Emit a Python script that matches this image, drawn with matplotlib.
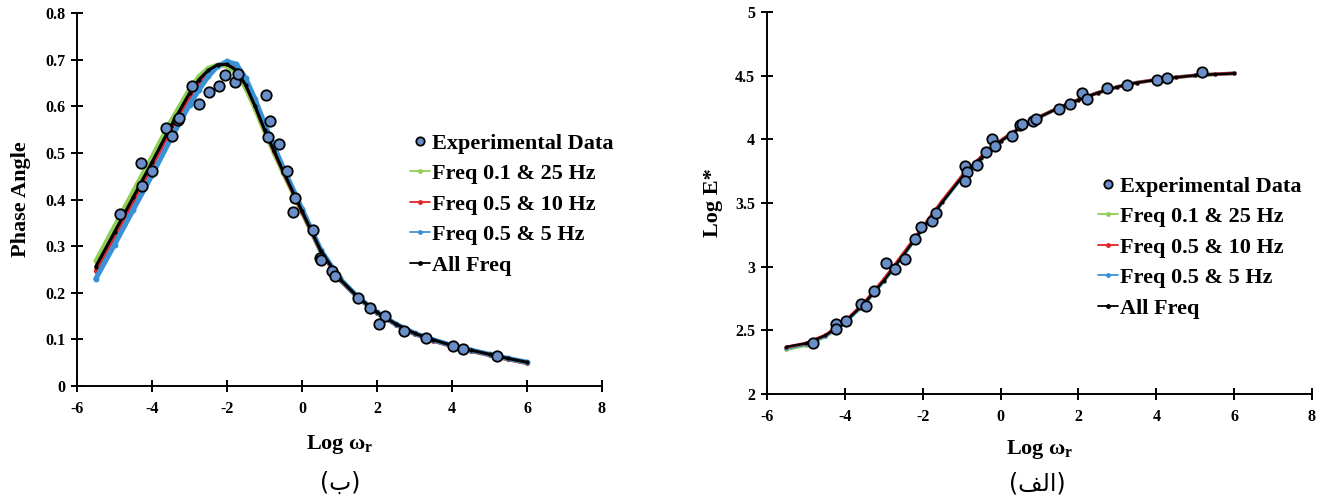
import matplotlib
matplotlib.use("Agg")
import matplotlib.pyplot as plt

# ---------------- data ----------------
# Phase angle master curve (panel b)
x_exp_phase = [-4.85, -4.29, -4.27, -4.01, -3.63, -3.47, -3.30, -3.29, -2.93, -2.74,
               -2.48, -2.22, -2.05, -1.78, -1.70, -0.95, -0.86, -0.91, -0.61, -0.41,
               -0.19, -0.23, 0.29, 0.48, 0.51, 0.79, 0.89, 1.50, 1.80, 2.20,
               2.06, 2.73, 3.30, 4.03, 4.29, 5.19]
y_exp_phase = [0.369, 0.479, 0.430, 0.461, 0.554, 0.537, 0.571, 0.575, 0.644, 0.604,
               0.630, 0.644, 0.667, 0.652, 0.670, 0.624, 0.569, 0.535, 0.518, 0.461,
               0.403, 0.373, 0.335, 0.274, 0.270, 0.247, 0.236, 0.188, 0.167, 0.151,
               0.133, 0.118, 0.104, 0.086, 0.080, 0.064]

x_fit_phase = [-5.5, -5, -4.5, -4, -3.5, -3, -2.75, -2.5, -2.25, -2, -1.75, -1.5, -1.25,
               -1, -0.75, -0.5, 0, 0.5, 1, 1.5, 2, 2.5, 3, 3.5, 4, 4.5, 5, 5.5, 6]
phase_f01_25 = [0.268, 0.343, 0.418, 0.492, 0.568, 0.637, 0.664, 0.682, 0.689, 0.686,
                0.670, 0.638, 0.594, 0.545, 0.500, 0.456, 0.372, 0.288, 0.229, 0.189,
                0.157, 0.132, 0.112, 0.098, 0.086, 0.076, 0.067, 0.058, 0.050]
phase_f05_10 = [0.247, 0.322, 0.397, 0.472, 0.550, 0.621, 0.651, 0.673, 0.688, 0.691,
                0.680, 0.647, 0.602, 0.551, 0.505, 0.460, 0.374, 0.288, 0.228, 0.188,
                0.156, 0.131, 0.111, 0.097, 0.085, 0.075, 0.066, 0.057, 0.049]
phase_f05_5 = [0.230, 0.303, 0.378, 0.452, 0.530, 0.603, 0.635, 0.664, 0.686, 0.696,
               0.690, 0.660, 0.615, 0.563, 0.515, 0.468, 0.380, 0.292, 0.231, 0.190,
               0.158, 0.133, 0.113, 0.099, 0.087, 0.077, 0.068, 0.059, 0.051]
phase_all = [0.256, 0.330, 0.405, 0.480, 0.557, 0.628, 0.657, 0.677, 0.689, 0.690,
             0.677, 0.645, 0.600, 0.550, 0.505, 0.460, 0.375, 0.290, 0.230, 0.190,
             0.158, 0.133, 0.113, 0.099, 0.087, 0.077, 0.068, 0.059, 0.051]

# Dynamic modulus master curve (panel alef)
x_exp_mod = [-4.83, -4.24, -4.23, -3.97, -3.59, -3.45, -3.25, -2.94, -2.71, -2.45,
             -2.20, -2.04, -1.75, -1.67, -0.91, -0.87, -0.91, -0.61, -0.38, -0.21,
             -0.14, 0.30, 0.50, 0.54, 0.83, 0.90, 1.50, 1.79, 2.08, 2.21,
             2.73, 3.26, 4.03, 4.27, 5.18]
y_exp_mod = [2.40, 2.55, 2.51, 2.57, 2.71, 2.69, 2.81, 3.03, 2.98, 3.06,
             3.22, 3.31, 3.36, 3.42, 3.79, 3.74, 3.67, 3.80, 3.90, 4.00,
             3.95, 4.03, 4.11, 4.12, 4.145, 4.16, 4.24, 4.28, 4.365, 4.315,
             4.40, 4.43, 4.465, 4.485, 4.525]

x_fit_mod = [-5.5, -5, -4.5, -4, -3.5, -3, -2.5, -2, -1.5, -1, -0.5, 0, 0.5, 1,
             1.5, 2, 2.5, 3, 3.5, 4, 4.5, 5, 5.5, 6]
mod_f01_25 = [2.352, 2.386, 2.452, 2.560, 2.707, 2.889, 3.090, 3.301, 3.506, 3.701,
              3.856, 3.986, 4.090, 4.175, 4.248, 4.310, 4.366, 4.412, 4.445, 4.468,
              4.487, 4.502, 4.511, 4.518]
mod_f05_10 = [2.368, 2.398, 2.462, 2.570, 2.718, 2.900, 3.102, 3.312, 3.516, 3.709,
              3.862, 3.990, 4.093, 4.177, 4.249, 4.311, 4.366, 4.412, 4.445, 4.468,
              4.487, 4.502, 4.511, 4.518]
mod_f05_5 = [2.362, 2.392, 2.456, 2.562, 2.708, 2.889, 3.089, 3.300, 3.505, 3.700,
             3.855, 3.985, 4.090, 4.175, 4.248, 4.310, 4.366, 4.412, 4.445, 4.468,
             4.487, 4.502, 4.511, 4.518]
mod_all = [2.370, 2.398, 2.460, 2.565, 2.710, 2.890, 3.090, 3.300, 3.505, 3.700,
           3.855, 3.985, 4.090, 4.175, 4.248, 4.310, 4.366, 4.412, 4.445, 4.468,
           4.487, 4.502, 4.511, 4.518]

series_labels = ["Experimental Data", "Freq 0.1 & 25 Hz", "Freq 0.5 & 10 Hz",
                 "Freq 0.5 & 5 Hz", "All Freq"]
x_ticks = [-6, -4, -2, 0, 2, 4, 6, 8]
phase_ticks = [0, 0.1, 0.2, 0.3, 0.4, 0.5, 0.6, 0.7, 0.8]
phase_ticklabels = ["0", "0.1", "0.2", "0.3", "0.4", "0.5", "0.6", "0.7", "0.8"]
mod_ticks = [2, 2.5, 3, 3.5, 4, 4.5, 5]
mod_ticklabels = ["2", "2.5", "3", "3.5", "4", "4.5", "5"]

# ---------------- style ----------------
SERIF = "Liberation Serif"
plt.rcParams["font.family"] = [SERIF, "DejaVu Sans"]
plt.rcParams["font.weight"] = "bold"
plt.rcParams["mathtext.fontset"] = "custom"
plt.rcParams["mathtext.rm"] = SERIF + ":bold"
plt.rcParams["mathtext.it"] = SERIF + ":bold"
plt.rcParams["mathtext.bf"] = SERIF + ":bold"

C_GREEN = "#8fcf55"
C_RED = "#e0252b"
C_BLUE = "#3a92d6"
C_BLACK = "#000000"
C_DOT = "#6a8ec8"

W, H = 1325, 499
fig = plt.figure(figsize=(W / 100, H / 100), dpi=100)
fig.patch.set_facecolor("white")

ax1 = fig.add_axes([77 / W, 1 - 386 / H, 525 / W, 373 / H])
ax2 = fig.add_axes([767 / W, 1 - 394 / H, 545 / W, 382 / H])


def style_axes(ax):
    for s in ("top", "right"):
        ax.spines[s].set_visible(False)
    for s in ("left", "bottom"):
        ax.spines[s].set_linewidth(1.4)
        ax.spines[s].set_color("black")
    ax.tick_params(axis="both", direction="inout", length=9, width=1.4,
                   labelsize=11.5, colors="black")
    ax.tick_params(axis="x", pad=6)
    ax.tick_params(axis="y", pad=4)
    ax.set_xlim(-6, 8)
    ax.set_xticks(x_ticks)
    ax.set_xticklabels([str(t) for t in x_ticks])
    for lab in ax.get_xticklabels() + ax.get_yticklabels():
        lab.set_fontweight("bold")
        lab.set_family(SERIF)
    ax.set_facecolor("white")


def draw_fits(ax, x, curves, widths):
    handles = []
    for (y, col), lw in zip(curves, widths):
        h, = ax.plot(x, y, color=col, lw=lw, marker="o", ms=lw * 0.9,
                     mec=col, mfc=col, solid_capstyle="round", zorder=2)
        handles.append(h)
    return handles


# ---- panel (b): phase angle ----
fits1 = draw_fits(ax1, x_fit_phase,
                  [(phase_f01_25, C_GREEN), (phase_f05_10, C_RED),
                   (phase_f05_5, C_BLUE), (phase_all, C_BLACK)],
                  [3.2, 2.8, 3.6, 2.2])
exp1, = ax1.plot(x_exp_phase, y_exp_phase, ls="none", marker="o", ms=7.5,
                 mfc=C_DOT, mec="black", mew=1.3, zorder=5)
ax1.set_ylim(0, 0.8)
ax1.set_yticks(phase_ticks)
ax1.set_yticklabels(phase_ticklabels)
style_axes(ax1)
ax1.set_ylabel("Phase Angle", fontsize=16, fontweight="bold", labelpad=10)
ax1.set_xlabel(r"Log $\omega_{r}$", fontsize=16, fontweight="bold", labelpad=12)

# ---- panel (alef): dynamic modulus ----
fits2 = draw_fits(ax2, x_fit_mod,
                  [(mod_f01_25, C_GREEN), (mod_f05_5, C_BLUE),
                   (mod_f05_10, C_RED), (mod_all, C_BLACK)],
                  [2.8, 2.6, 2.3, 1.7])
exp2, = ax2.plot(x_exp_mod, y_exp_mod, ls="none", marker="o", ms=7.5,
                 mfc=C_DOT, mec="black", mew=1.3, zorder=5)
ax2.set_ylim(2, 5)
ax2.set_yticks(mod_ticks)
ax2.set_yticklabels(mod_ticklabels)
style_axes(ax2)
ax2.set_ylabel("Log E*", fontsize=16, fontweight="bold", labelpad=9)
ax2.set_xlabel(r"Log $\omega_{r}$", fontsize=16, fontweight="bold", labelpad=10)


def add_legend(ax, exp_h, fit_h, anchor_px):
    # legend order: data, green, red, blue, black
    order = [exp_h] + fit_h
    leg = ax.legend(order, series_labels, loc="upper left",
                    bbox_to_anchor=(anchor_px[0] / W, 1 - anchor_px[1] / H),
                    bbox_transform=fig.transFigure, frameon=False,
                    prop={"family": SERIF, "weight": "bold", "size": 16},
                    handlelength=0.9, handletextpad=0.1, labelspacing=0.45,
                    borderpad=0, borderaxespad=0, markerscale=1.0)
    lines = leg.get_lines()
    lines[0].set_markersize(6)
    for ln in lines[1:]:
        ln.set_linewidth(1.3)
        ln.set_markersize(2.5)
    return leg


add_legend(ax1, exp1, [fits1[0], fits1[1], fits1[2], fits1[3]], (410, 133))
add_legend(ax2, exp2, [fits2[0], fits2[2], fits2[1], fits2[3]], (1098, 176))

# panel captions
fig.text(340 / W, 1 - 483 / H, "(ب)", fontsize=17, family="DejaVu Sans",
         fontweight="normal", ha="center", va="center")
fig.text(1037 / W, 1 - 483 / H, "(\uFED2\uFEDF\uFE8D)", fontsize=17,
         family="DejaVu Sans", fontweight="normal", ha="center", va="center")

fig.savefig("out.png", dpi=100, facecolor="white")
